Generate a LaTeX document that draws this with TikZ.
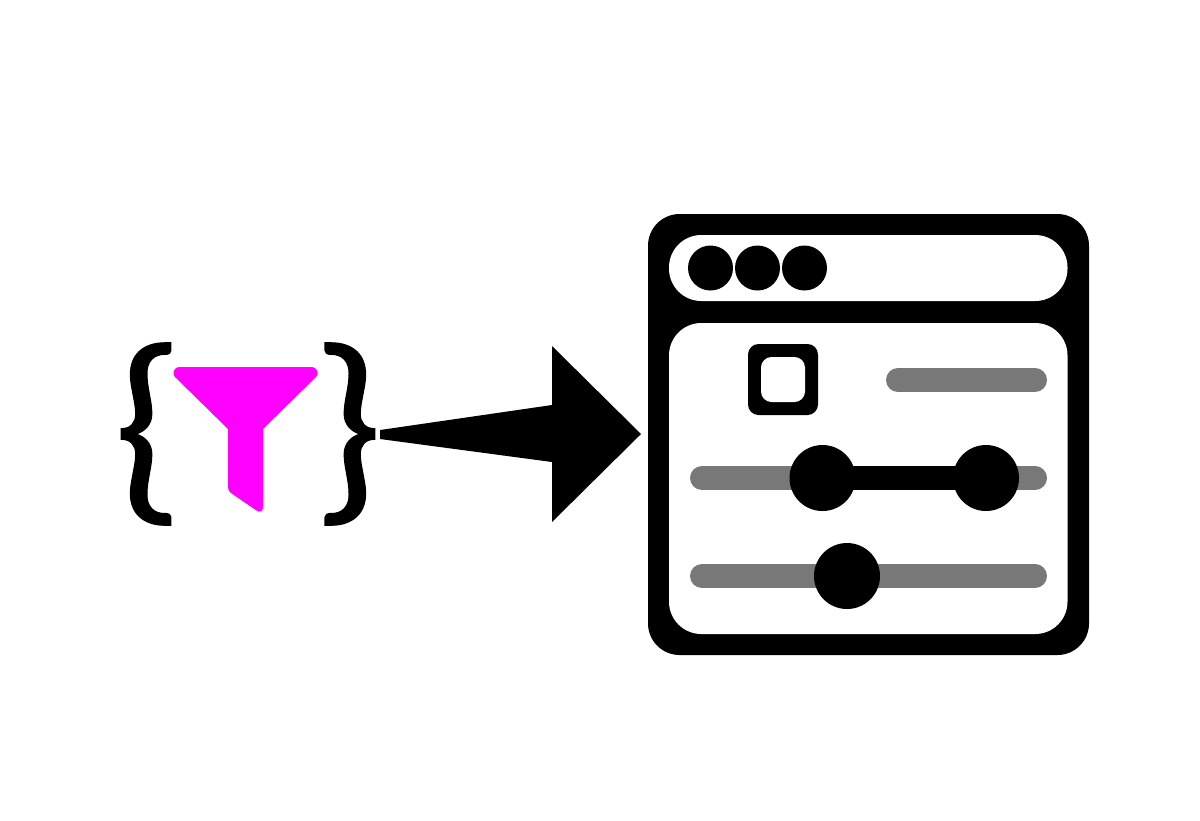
\documentclass[tikz,border=0pt]{standalone}
\usepackage{fontspec}
\setmainfont[FakeBold=0.5]{Lato}
\definecolor{funnelpink}{RGB}{255,0,255}
\definecolor{bargray}{RGB}{120,120,120}
\tikzset{
    panel/.style={fill=white, rounded corners=9.2pt},
    track/.style={bargray, line width=2.4mm, line cap=round},
    brace/.style={inner sep=0pt, transform shape, xscale=1.06, font=\fontsize{57}{58}\selectfont}
}
\begin{document}
\begin{tikzpicture}[x=0.01cm,y=-0.01cm]
    \useasboundingbox (0,0) rectangle (1200,820);

    \node[brace] (lbrace) at (146,434) {\{};
    \node[brace] (rbrace) at (350,434) {\}};

    \fill[funnelpink] (228,429) -- (175.25,377.25) arc[start angle=135, end angle=270, radius=6] -- (311.5,367) arc[start angle=270, end angle=405, radius=6] -- (263,429) [rounded corners=2.3pt] -- (263,515) [rounded corners=1pt] -- (228,491) [sharp corners] -- cycle;

    \fill (380,430) -- (552,405) -- (552,346) -- (641,434) -- (552,522) -- (552,462) -- (380,439) -- cycle;

    \fill[rounded corners=9pt] (648,214) rectangle (1089,655);
    \fill[panel] (669,235) rectangle (1067.5,301);
    \fill[panel] (669,323) rectangle (1067.5,634);

    \fill (710.5,268) circle (22.5);
    \fill (757.5,268) circle (22.5);
    \fill (804.5,268) circle (22.5);

    \fill[rounded corners=3pt] (748,344) rectangle (818,415);
    \fill[white,rounded corners=3pt] (761,357) rectangle (805,402);

    \draw[track] (898,380) -- (1035,380);
    \draw[track] (702,478) -- (1035,478);
    \draw[track] (702,576) -- (1035,576);

    \draw[line width=2.4mm] (822,478) -- (986,478);
    \fill (822.5,478) circle (33);
    \fill (986,478) circle (33);
    \fill (847,576) circle (33);
\end{tikzpicture}
\end{document}
